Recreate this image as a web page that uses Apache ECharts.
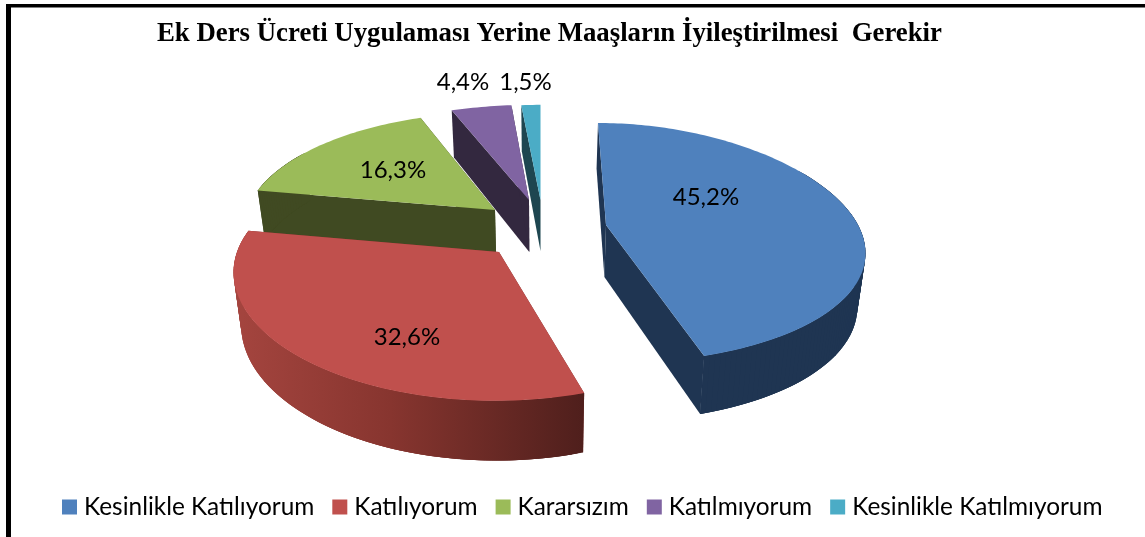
<!DOCTYPE html>
<html>
<head>
<meta charset="utf-8">
<title>Ek Ders Ücreti</title>
<script src="https://cdn.jsdelivr.net/npm/echarts@6/dist/echarts.min.js"></script>
<style>
	html, body { margin: 0; padding: 0; background: #fff; }
	#main { width: 1145px; height: 537px; }
</style>
</head>
<body>
<div id="main"></div>
<script>
	var titleText = 'Ek Ders Ücreti Uygulaması Yerine Maaşların İyileştirilmesi  Gerekir';
	var categories = ['Kesinlikle Katılıyorum', 'Katılıyorum', 'Kararsızım', 'Katılmıyorum', 'Kesinlikle Katılmıyorum'];
	var shares = [45.2, 32.6, 16.3, 4.4, 1.5];

	var topColors = ['#4F81BD', '#C0504D', '#9BBB59', '#8064A2', '#4BACC6'];
	var sideColors = ['#1F3552', '#7A302E', '#404A22', '#33283F', '#1E4650'];
	// draw order, back to front: red has to lie over the green side
	var drawOrder = [3, 4, 2, 0, 1];

	// each slice is pulled out on its own, so each one has its own projection
	// vx,vy tip of the slice / rx,ry radii / kx,ky perspective / sx lean / d,kd side height
	var sliceShapes = [
		{ vx: 606, vy: 225, rx: 252, ry: 120, kx: 0.22, ky: 0.15, sx: 8, d: 52, kd: 0.12 },
		{ vx: 499, vy: 252, rx: 262, ry: 125, kx: 0.15, ky: 0.19, sx: -4, d: 52, kd: 0.15 },
		{ vx: 495, vy: 210, rx: 248, ry: 115, kx: 0.15, ky: 0.15, sx: -3, d: 50, kd: 0.1 },
		{ vx: 529, vy: 200, rx: 257, ry: 110, kx: 0.15, ky: 0.135, sx: -3, d: 52, kd: 0.1 },
		{ vx: 540.5, vy: 200, rx: 240, ry: 110, kx: 0.15, ky: 0.135, sx: 0, d: 51, kd: 0.1 }
	];
	// label centre, relative to the slice tip
	var labelOffsets = [[100, -28], [-92, 85], [-102, -40], [-66, -118], [-15, -118]];
	// the bottom of the sides narrows towards this x
	var narrowX = 541;
	var narrowBy = 0.025;

	function startAngle(index) {
		var total = shares.reduce(function(a, b) { return a + b; }, 0);
		var sum = 0;
		for (var i = 0; i < index; i++) sum += shares[i];
		return sum / total * Math.PI * 2;
	}

	function narrow(x, h) {
		return narrowX + (x - narrowX) * (1 - narrowBy * h);
	}

	// angle is clockwise from 12 o'clock, h 0 = top face, 1 = bottom of the side
	function project(s, angle, h) {
		var a = Math.sin(angle), c = -Math.cos(angle);
		return [
			narrow(s.vx + s.sx * c + s.rx * a * (1 + s.kx * c), h),
			s.vy + s.ry * c * (1 + s.ky * c) + h * s.d * (1 + s.kd * c)
		];
	}

	function tip(s, h) {
		return [narrow(s.vx, h), s.vy + h * s.d];
	}

	function arcAngles(a0, a1) {
		var list = [];
		var steps = Math.max(4, Math.ceil((a1 - a0) / 0.02));
		for (var i = 0; i <= steps; i++) {
			list.push(a0 + (a1 - a0) * i / steps);
		}
		return list;
	}

	function poly(points, fill) {
		return { type: 'polygon', shape: { points: points }, style: { fill: fill, stroke: null } };
	}

	function sideFill(index) {
		if (index != 1) return sideColors[index];
		// only the red slice shows the light falling off along the rim, in page pixels
		return new echarts.graphic.LinearGradient(232, 0, 584, 0, [
			{ offset: 0, color: '#A5453F' },
			{ offset: 0.45, color: '#87352F' },
			{ offset: 1, color: '#4F1F1C' }
		], true);
	}

	function makeRenderItem(index) {
		return function(params, api) {
			var s = sliceShapes[index];
			var a0 = startAngle(index);
			var a1 = a0 + api.value(0) / 100 * Math.PI * 2;
			var side = sideColors[index];
			var angles = arcAngles(a0, a1);
			var topArc = angles.map(function(a) { return project(s, a, 0); });
			var fill = sideFill(index);
			var children = [
				poly([tip(s, 0), project(s, a0, 0), project(s, a0, 1), tip(s, 1)], side),
				poly([tip(s, 0), project(s, a1, 0), project(s, a1, 1), tip(s, 1)], side)
			];
			// rim as small overlapping quads, so the outline follows the widest part of the arc
			for (var i = 0; i < angles.length - 1; i++) {
				// the far part of the rim is hidden anyway
				if (Math.cos(angles[i]) > 0.5) continue;
				var j = Math.min(i + 3, angles.length - 1);
				children.push(poly([topArc[i], topArc[j], project(s, angles[j], 1), project(s, angles[i], 1)], fill));
			}
			children.push(poly([tip(s, 0)].concat(topArc), topColors[index]));
			children.push({
				type: 'text',
				style: {
					x: s.vx + labelOffsets[index][0],
					y: s.vy + labelOffsets[index][1],
					text: api.value(0).toFixed(1).replace('.', ',') + '%',
					fill: '#000',
					font: '24px Lato',
					align: 'center',
					verticalAlign: 'middle'
				},
				z2: 10
			});
			return { type: 'group', children: children };
		};
	}

	var chart = echarts.init(document.getElementById('main'));
	chart.setOption({
		animation: false,
		title: {
			text: titleText,
			left: 157,
			top: 21,
			padding: 0,
			textStyle: { fontFamily: 'Liberation Serif', fontWeight: 'bold', fontSize: 26.8, color: '#000' }
		},
		legend: {
			data: categories,
			left: 62,
			top: 495,
			padding: 0,
			itemWidth: 15,
			itemHeight: 15,
			itemGap: 18,
			icon: 'rect',
			selectedMode: false,
			textStyle: { fontFamily: 'Lato', fontSize: 24.4, color: '#000', padding: [0, 0, 0, 2] }
		},
		graphic: [
			{ type: 'rect', shape: { x: 6, y: 4, width: 5, height: 533 }, style: { fill: '#000' } },
			{ type: 'rect', shape: { x: 6, y: 4, width: 1139, height: 3.5 }, style: { fill: '#000' } }
		],
		series: categories.map(function(name, i) {
			return {
				type: 'custom',
				name: name,
				coordinateSystem: 'none',
				z: 2 + drawOrder.indexOf(i),
				silent: true,
				itemStyle: { color: topColors[i] },
				renderItem: makeRenderItem(i),
				data: [[shares[i]]]
			};
		})
	});
</script>
</body>
</html>
